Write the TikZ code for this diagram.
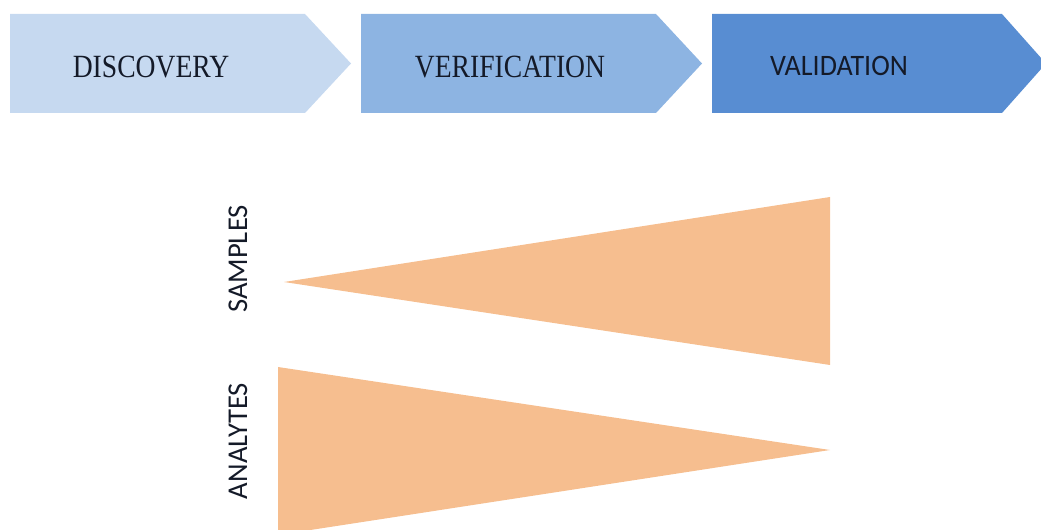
\documentclass[tikz,border=0pt]{standalone}
\usepackage{fontspec}
\setmainfont{Liberation Serif}
\newfontfamily\labelsans{Carlito}
\definecolor{phaseA}{HTML}{C6D9F0}
\definecolor{phaseB}{HTML}{8DB4E2}
\definecolor{phaseC}{HTML}{588DD2}
\definecolor{wedge}{HTML}{F6BE8F}
\definecolor{ink}{HTML}{141A28}
\begin{document}
\begin{tikzpicture}[
  x=0.75pt, y=-0.75pt,
  phase/.style={text=ink, inner sep=0pt},
  serifphase/.style={phase, font=\fontsize{22.5}{24}\selectfont,
                     xscale=0.92, yscale=1.08},
  sansphase/.style={phase, font=\labelsans\fontsize{21}{23}\selectfont,
                    yscale=1.06},
  axislabel/.style={text=ink, inner sep=0pt, rotate=90,
                    font=\labelsans\fontsize{21.5}{23}\selectfont}
]
\useasboundingbox (0,0) rectangle (1041,530);
\clip (0,0) rectangle (1041,530);

% phase chevrons
\fill[phaseA] (10,14) -- (305,14) -- (351,63.5) -- (305,113) -- (10,113) -- cycle;
\fill[phaseB] (361,14) -- (656,14) -- (702,63.5) -- (656,113) -- (361,113) -- cycle;
\fill[phaseC] (712,14) -- (1002,14) -- (1046,63.5) -- (1002,113) -- (712,113) -- cycle;

\node[serifphase] (discovery) at (151,67) {DISCOVERY};
\node[serifphase] (verification) at (510,67) {VERIFICATION};
\node[sansphase] (validation) at (839,66) {VALIDATION};

% wedges
\fill[wedge] (284,282) -- (830,197) -- (830,365) -- cycle;
\fill[wedge] (278,367) -- (830,450) -- (278,535) -- cycle;

\node[axislabel] (samples) at (238,259) {SAMPLES};
\node[axislabel] (analytes) at (238,441) {ANALYTES};
\end{tikzpicture}
\end{document}
